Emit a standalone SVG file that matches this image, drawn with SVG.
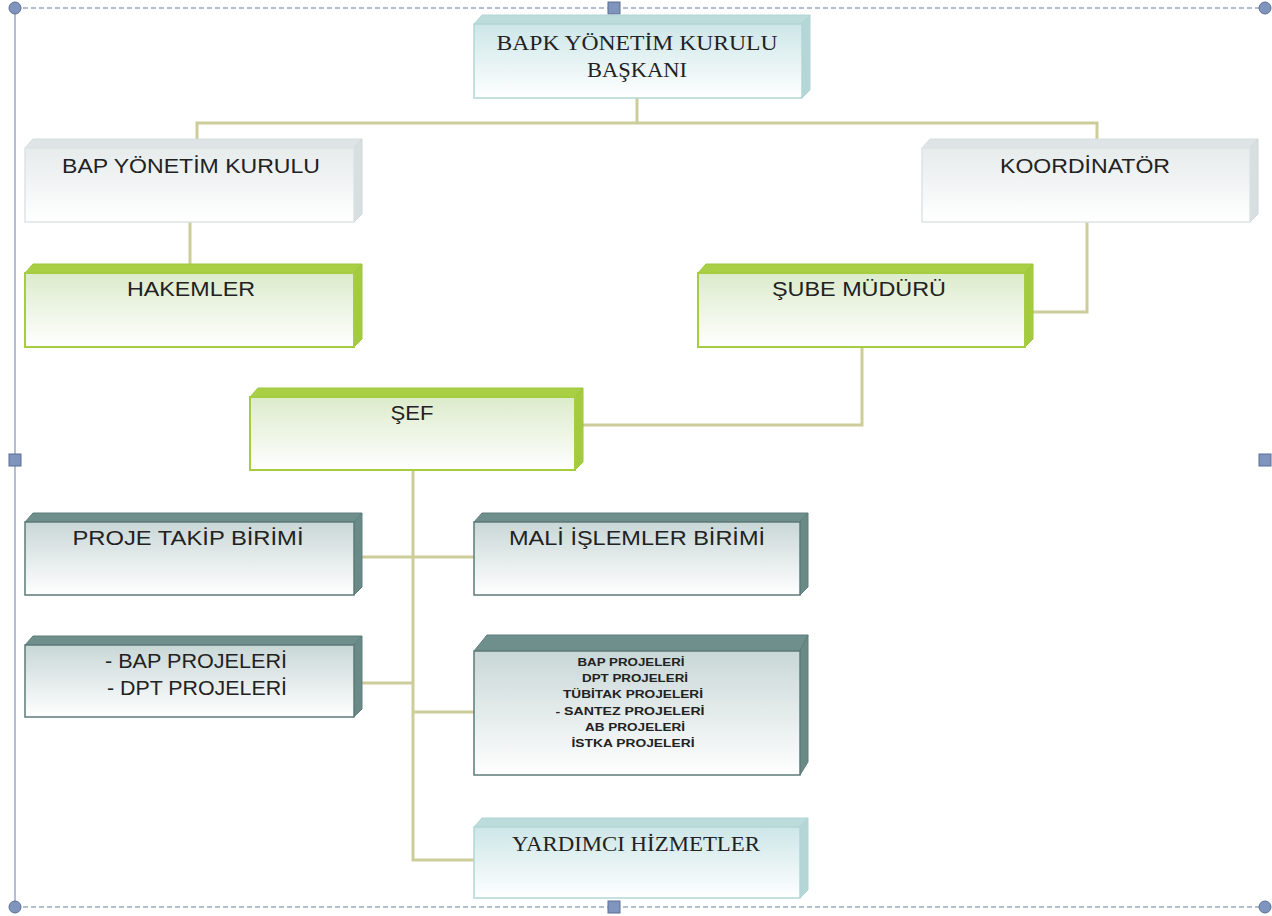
<svg xmlns="http://www.w3.org/2000/svg" width="1272" height="916" viewBox="0 0 1272 916">
<style>
.sans{font-family:"Liberation Sans",Arial,sans-serif;fill:#222;text-anchor:middle}
.serif{font-family:"Liberation Serif","Times New Roman",serif;fill:#222;text-anchor:middle}
.conn{fill:none;stroke:#cdcd9c;stroke-width:3}
.frame{stroke:#9ba9c2;stroke-width:1.5;fill:none}
.handle{fill:#7f95bd;stroke:#5d6f94;stroke-width:1}
</style>
<defs>
<linearGradient id="gTeal" x1="0" y1="0" x2="0" y2="1"><stop offset="0" stop-color="#cde6e8"/><stop offset="1" stop-color="#ffffff"/></linearGradient>
<linearGradient id="gGray" x1="0" y1="0" x2="0" y2="1"><stop offset="0" stop-color="#e6ebec"/><stop offset="1" stop-color="#ffffff"/></linearGradient>
<linearGradient id="gGreen" x1="0" y1="0" x2="0" y2="1"><stop offset="0" stop-color="#dcebcb"/><stop offset="1" stop-color="#ffffff"/></linearGradient>
<linearGradient id="gDark" x1="0" y1="0" x2="0" y2="1"><stop offset="0" stop-color="#c9d7d7"/><stop offset="1" stop-color="#ffffff"/></linearGradient>
</defs>
<rect width="1272" height="916" fill="#ffffff"/>
<g id="frame">
<line class="frame" x1="15" y1="8" x2="1265" y2="8" stroke-dasharray="5,3"/>
<line class="frame" x1="15" y1="907" x2="1265" y2="907" stroke-dasharray="5,3"/>
<line class="frame" x1="15" y1="8" x2="15" y2="907"/>
<circle class="handle" cx="15" cy="8" r="6"/>
<circle class="handle" cx="1265" cy="8" r="6"/>
<circle class="handle" cx="15" cy="907" r="6"/>
<circle class="handle" cx="1265" cy="907" r="6"/>
<rect class="handle" x="608" y="2" width="12" height="12"/>
<rect class="handle" x="608" y="901" width="12" height="12"/>
<rect class="handle" x="9" y="454" width="12" height="12"/>
<rect class="handle" x="1259" y="454" width="12" height="12"/>
</g>
<g id="connectors">
<polyline class="conn" points="637,98 637,123"/>
<polyline class="conn" points="197,140 197,123 1097,123 1097,140"/>
<polyline class="conn" points="190,222 190,264"/>
<polyline class="conn" points="1087,222 1087,312 1033,312"/>
<polyline class="conn" points="862,348 862,425 583,425"/>
<polyline class="conn" points="413,470 413,860 474,860"/>
<polyline class="conn" points="362,557 474,557"/>
<polyline class="conn" points="362,683 413,683"/>
<polyline class="conn" points="413,712 474,712"/>
</g>
<g id="n-baskan">
<polygon points="474,24 482,15 810,15 802,24" fill="#bcdcdc" stroke="#b0d4d4"/>
<polygon points="802,24 810,15 810,90 802,98" fill="#b5d6d6" stroke="#b0d4d4"/>
<rect x="474" y="24" width="328" height="74" fill="url(#gTeal)" stroke="#b3d6d6" stroke-width="1.5"/>
<text class="serif" x="637" y="50" font-size="21" textLength="281" lengthAdjust="spacingAndGlyphs">BAPK YÖNETİM KURULU</text>
<text class="serif" x="637" y="77" font-size="21" textLength="100" lengthAdjust="spacingAndGlyphs">BAŞKANI</text>
</g>
<g id="n-bapyk">
<polygon points="25,148 33,139 362,139 354,148" fill="#dfe5e6" stroke="#d5dcdd"/>
<polygon points="354,148 362,139 362,214 354,222" fill="#d8dfe0" stroke="#d0d8d9"/>
<rect x="25" y="148" width="329" height="74" fill="url(#gGray)" stroke="#dde3e4" stroke-width="1.5"/>
<text class="sans" x="191" y="173" font-size="21" textLength="258" lengthAdjust="spacingAndGlyphs">BAP YÖNETİM KURULU</text>
</g>
<g id="n-koord">
<polygon points="922,148 930,139 1258,139 1250,148" fill="#dfe5e6" stroke="#d5dcdd"/>
<polygon points="1250,148 1258,139 1258,214 1250,222" fill="#d8dfe0" stroke="#d0d8d9"/>
<rect x="922" y="148" width="328" height="74" fill="url(#gGray)" stroke="#dde3e4" stroke-width="1.5"/>
<text class="sans" x="1085" y="173" font-size="21" textLength="170" lengthAdjust="spacingAndGlyphs">KOORDİNATÖR</text>
</g>
<g id="n-hakemler">
<polygon points="25,273 33,264 362,264 354,273" fill="#a9d045" stroke="#9cc63a"/>
<polygon points="354,273 362,264 362,339 354,347" fill="#a4cb40" stroke="#9cc63a"/>
<rect x="25" y="273" width="329" height="74" fill="url(#gGreen)" stroke="#a6cd40" stroke-width="2"/>
<text class="sans" x="191" y="296" font-size="21" textLength="128" lengthAdjust="spacingAndGlyphs">HAKEMLER</text>
</g>
<g id="n-sube">
<polygon points="698,273 706,264 1033,264 1025,273" fill="#a9d045" stroke="#9cc63a"/>
<polygon points="1025,273 1033,264 1033,339 1025,347" fill="#a4cb40" stroke="#9cc63a"/>
<rect x="698" y="273" width="327" height="74" fill="url(#gGreen)" stroke="#a6cd40" stroke-width="2"/>
<text class="sans" x="859" y="296" font-size="21" textLength="174" lengthAdjust="spacingAndGlyphs">ŞUBE MÜDÜRÜ</text>
</g>
<g id="n-sef">
<polygon points="250,397 258,388 583,388 575,397" fill="#a9d045" stroke="#9cc63a"/>
<polygon points="575,397 583,388 583,462 575,470" fill="#a4cb40" stroke="#9cc63a"/>
<rect x="250" y="397" width="325" height="73" fill="url(#gGreen)" stroke="#a6cd40" stroke-width="2"/>
<text class="sans" x="412" y="420" font-size="21" textLength="43" lengthAdjust="spacingAndGlyphs">ŞEF</text>
</g>
<g id="n-proje">
<polygon points="25,522 33,513 362,513 354,522" fill="#6f8f8c" stroke="#5f7f7c"/>
<polygon points="354,522 362,513 362,587 354,595" fill="#6a8a88" stroke="#5f7f7c"/>
<rect x="25" y="522" width="329" height="73" fill="url(#gDark)" stroke="#5d7b79" stroke-width="1.5"/>
<text class="sans" x="188" y="545" font-size="21" textLength="231" lengthAdjust="spacingAndGlyphs">PROJE TAKİP BİRİMİ</text>
</g>
<g id="n-mali">
<polygon points="474,522 482,513 808,513 800,522" fill="#6f8f8c" stroke="#5f7f7c"/>
<polygon points="800,522 808,513 808,587 800,595" fill="#6a8a88" stroke="#5f7f7c"/>
<rect x="474" y="522" width="326" height="73" fill="url(#gDark)" stroke="#5d7b79" stroke-width="1.5"/>
<text class="sans" x="637" y="545" font-size="21" textLength="256" lengthAdjust="spacingAndGlyphs">MALİ İŞLEMLER BİRİMİ</text>
</g>
<g id="n-bapdpt">
<polygon points="25,645 33,636 362,636 354,645" fill="#6f8f8c" stroke="#5f7f7c"/>
<polygon points="354,645 362,636 362,709 354,717" fill="#6a8a88" stroke="#5f7f7c"/>
<rect x="25" y="645" width="329" height="72" fill="url(#gDark)" stroke="#5d7b79" stroke-width="1.5"/>
<text class="sans" x="196" y="668" font-size="21" textLength="182" lengthAdjust="spacingAndGlyphs">- BAP PROJELERİ</text>
<text class="sans" x="197" y="695" font-size="21" textLength="180" lengthAdjust="spacingAndGlyphs">- DPT PROJELERİ</text>
</g>
<g id="n-projeler">
<polygon points="474,651 487,635 808,635 800,651" fill="#6f8f8c" stroke="#5f7f7c"/>
<polygon points="800,651 808,635 808,762 800,775" fill="#6a8a88" stroke="#5f7f7c"/>
<rect x="474" y="651" width="326" height="124" fill="url(#gDark)" stroke="#5d7b79" stroke-width="1.5"/>
<text class="sans" x="631" y="666" font-size="11" font-weight="bold" textLength="107" lengthAdjust="spacingAndGlyphs">BAP PROJELERİ</text>
<text class="sans" x="635" y="682" font-size="11" font-weight="bold" textLength="106" lengthAdjust="spacingAndGlyphs">DPT PROJELERİ</text>
<text class="sans" x="633" y="698" font-size="11" font-weight="bold" textLength="140" lengthAdjust="spacingAndGlyphs">TÜBİTAK PROJELERİ</text>
<text class="sans" x="630" y="715" font-size="11" font-weight="bold" textLength="149" lengthAdjust="spacingAndGlyphs">- SANTEZ PROJELERİ</text>
<text class="sans" x="635" y="731" font-size="11" font-weight="bold" textLength="100" lengthAdjust="spacingAndGlyphs">AB PROJELERİ</text>
<text class="sans" x="633" y="747" font-size="11" font-weight="bold" textLength="123" lengthAdjust="spacingAndGlyphs">İSTKA PROJELERİ</text>
</g>
<g id="n-yardimci">
<polygon points="474,827 482,818 808,818 800,827" fill="#bcdcdc" stroke="#b0d4d4"/>
<polygon points="800,827 808,818 808,890 800,898" fill="#b5d6d6" stroke="#b0d4d4"/>
<rect x="474" y="827" width="326" height="71" fill="url(#gTeal)" stroke="#b3d6d6" stroke-width="1.5"/>
<text class="serif" x="636" y="851" font-size="21" textLength="248" lengthAdjust="spacingAndGlyphs">YARDIMCI HİZMETLER</text>
</g>
</svg>
